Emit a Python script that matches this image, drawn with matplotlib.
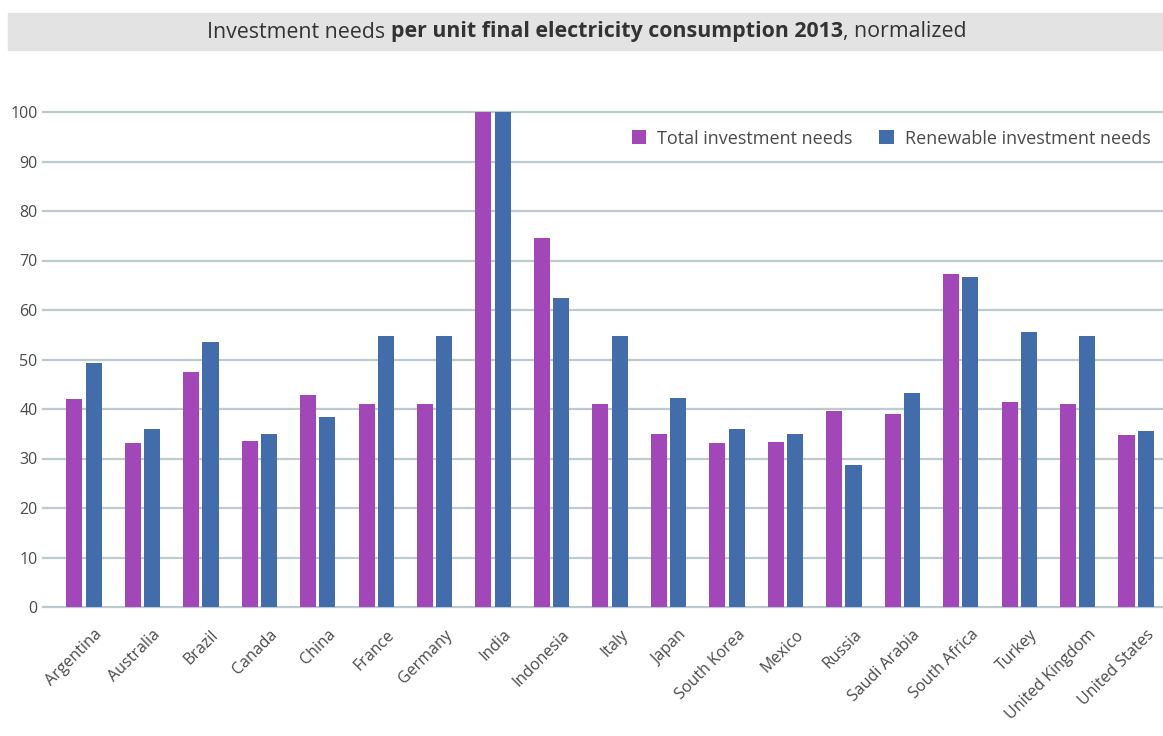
import matplotlib
matplotlib.use("Agg")
import matplotlib.pyplot as plt
import matplotlib.transforms as mtransforms
from matplotlib.patches import Rectangle
import numpy as np

countries = ["Argentina", "Australia", "Brazil", "Canada", "China", "France", "Germany",
             "India", "Indonesia", "Italy", "Japan", "South Korea", "Mexico", "Russia",
             "Saudi Arabia", "South Africa", "Turkey", "United Kingdom", "United States"]
total_needs = [42.1, 33.2, 47.5, 33.6, 42.9, 41.1, 41.1, 100, 74.6, 41.1, 35.0, 33.2,
               33.4, 39.6, 39.0, 67.3, 41.5, 41.1, 34.8]
renewable_needs = [49.3, 36.0, 53.6, 35.0, 38.3, 54.8, 54.8, 100, 62.5, 54.8, 42.3, 36.0,
                   35.0, 28.6, 43.3, 66.7, 55.6, 54.8, 35.6]
yticks = [0, 10, 20, 30, 40, 50, 60, 70, 80, 90, 100]
title_parts = ["Investment needs ", "per unit final electricity consumption 2013", ", normalized"]

purple = "#A147B8"
blue = "#436DAA"
grid_c = "#BCCBD0"
text_c = "#4a4a4a"

plt.rcParams['font.family'] = ['Open Sans', 'DejaVu Sans']

fig = plt.figure(figsize=(11.63, 7.36), dpi=100)
ax = fig.add_axes([43/1163, 1 - 607/736, 1120/1163, 495/736])

x = np.arange(len(countries))
w = 0.275
ax.bar(x - 0.165, total_needs, w, color=purple, label="Total investment needs", zorder=3)
ax.bar(x + 0.165, renewable_needs, w, color=blue, label="Renewable investment needs", zorder=3)

ax.set_ylim(0, 100)
ax.set_xlim(-0.70, 18.46)
ax.set_yticks(yticks)
ax.set_yticklabels([str(v) for v in yticks], fontsize=11.5, color=text_c)
for v in yticks:
    ax.axhline(v, color=grid_c, lw=1.6, zorder=1, clip_on=False)
ax.tick_params(axis='y', length=0, pad=4)
ax.tick_params(axis='x', length=0, pad=2)
for s in ax.spines.values():
    s.set_visible(False)

ax.set_xticks(x)
offset = mtransforms.ScaledTranslation(10/100, -17/100, fig.dpi_scale_trans)
labels = ax.set_xticklabels(countries, rotation=45, ha='right', rotation_mode='anchor',
                            fontsize=11.5, color=text_c)
for lab in labels:
    lab.set_transform(lab.get_transform() + offset)

leg = ax.legend(loc='upper right', bbox_to_anchor=(1.0, 0.99), ncol=2, frameon=False,
                fontsize=13, handlelength=0.8, handleheight=0.8, columnspacing=1.5,
                handletextpad=0.6, borderaxespad=0.3)
for t in leg.get_texts():
    t.set_color(text_c)

# Title bar
fig.patches.append(Rectangle((8/1163, 1 - 50/736), 1155/1163, 37/736,
                             transform=fig.transFigure, color="#E3E3E3", zorder=0))

renderer = fig.canvas.get_renderer()
weights = ["normal", "bold", "normal"]
tfs = 15.4
texts = []
for part, wt in zip(title_parts, weights):
    t = fig.text(0, 1 - 32/736, part, ha='left', va='center', fontsize=tfs,
                 fontweight=wt, color="#333333")
    texts.append(t)
widths = [t.get_window_extent(renderer).width for t in texts]
total_w = sum(widths)
xpos = 587 - total_w / 2
for t, wd in zip(texts, widths):
    t.set_x(xpos / 1163)
    xpos += wd

fig.savefig("out.png", dpi=100)
